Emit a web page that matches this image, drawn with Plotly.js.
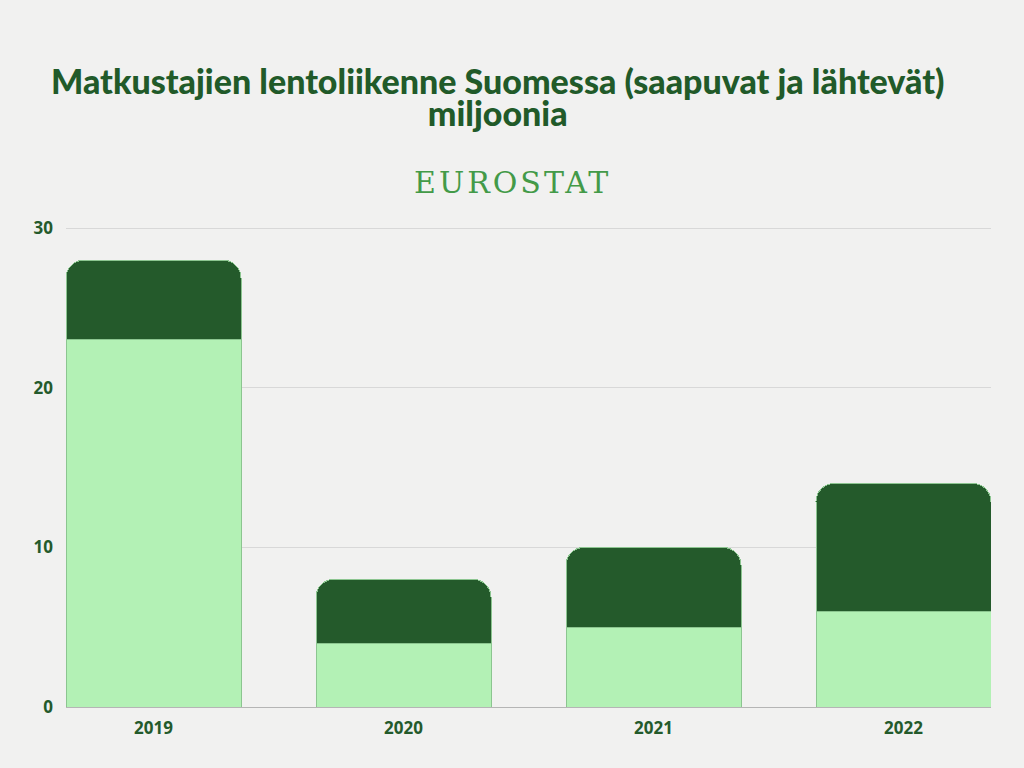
<!DOCTYPE html>
<html>
<head>
<meta charset="utf-8">
<script src="https://cdn.plot.ly/plotly-3.0.1.min.js"></script>
<style>
  html, body { margin: 0; padding: 0; background: #f1f1f0; }
  #chart { width: 1024px; height: 768px; }
  .subtitle-spaced text { letter-spacing: 3px; }
</style>
</head>
<body>
<div id="chart"></div>
<script>
// Passengers in air traffic, Finland (arrivals + departures), millions
const years = ['2019', '2020', '2021', '2022'];
const lowerSeries = [23, 4, 5, 6];
const upperSeries = [5, 4, 5, 8];
const yTicks = [0, 10, 20, 30];

const titleText = 'Matkustajien lentoliikenne Suomessa (saapuvat ja lähtevät)<br>miljoonia';
const subtitle = 'EUROSTAT';

const darkGreen = '#245a2b';
const lightGreen = '#b3f1b5';
const outline = '#8cc590';

const traces = [
  {
    x: years,
    y: lowerSeries,
    type: 'bar',
    name: 'alempi',
    marker: { color: lightGreen, line: { color: outline, width: 1 } },
    hoverinfo: 'skip'
  },
  {
    x: years,
    y: upperSeries,
    type: 'bar',
    name: 'ylempi',
    marker: { color: darkGreen, line: { color: outline, width: 1 }, cornerradius: 18 },
    hoverinfo: 'skip'
  }
];

const tickFont = { family: 'Open Sans, sans-serif', size: 17, color: darkGreen, weight: 700 };
const titleFont = { family: 'Lato, sans-serif', size: 34, color: '#215a29', weight: 900 };

const annotations = [
  { text: titleText, y: 1.255, x: 0.466, font: titleFont },
  { text: subtitle, y: 1.089, x: 0.483, font: { family: 'DejaVu Serif, serif', size: 30, color: '#439a48' } }
].map(a => ({
  text: a.text,
  xref: 'paper',
  yref: 'paper',
  x: a.x,
  y: a.y,
  xanchor: 'center',
  yanchor: 'middle',
  showarrow: false,
  font: a.font
}));

const layout = {
  width: 1024,
  height: 768,
  paper_bgcolor: '#f1f1f0',
  plot_bgcolor: 'rgba(0,0,0,0)',
  barmode: 'stack',
  bargap: 0.3,
  showlegend: false,
  margin: { l: 66, r: 33, t: 225, b: 61 },
  annotations: annotations,
  xaxis: {
    type: 'category',
    range: [-0.35, 3.35],
    fixedrange: true,
    showgrid: false,
    showline: true,
    linecolor: '#b5b5b5',
    linewidth: 1,
    ticks: '',
    ticklabelstandoff: 6,
    tickfont: tickFont
  },
  yaxis: {
    range: [0, 30.2],
    fixedrange: true,
    tickvals: yTicks,
    ticktext: yTicks.map(String),
    showgrid: true,
    gridcolor: '#d8d8d8',
    gridwidth: 1,
    zeroline: false,
    showline: false,
    ticks: '',
    ticklabelstandoff: 12,
    tickfont: tickFont
  }
};

Plotly.newPlot('chart', traces, layout, { displayModeBar: false, staticPlot: true }).then(gd => {
  const anns = gd.querySelectorAll('.annotation');
  // tighter line spacing for the two-line title, as in the reference
  if (anns[0]) {
    const lines = anns[0].querySelectorAll('tspan.line');
    if (lines.length > 1) lines[1].setAttribute('dy', '0.95em');
  }
  if (anns[1]) anns[1].classList.add('subtitle-spaced');
});
</script>
</body>
</html>
